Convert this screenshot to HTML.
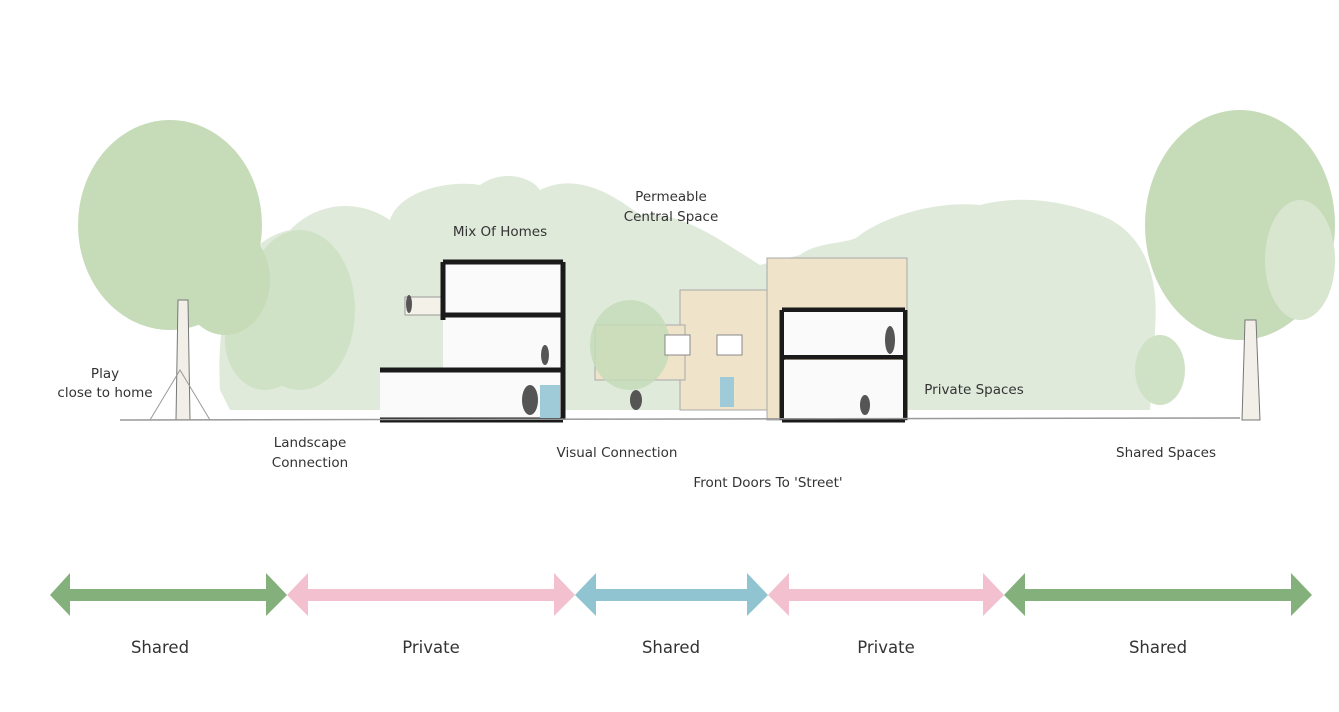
<!DOCTYPE html>
<html><head><style>
body{margin:0;background:#fff;}
svg{display:block}
text{font-family:"DejaVu Sans","Liberation Sans",sans-serif;fill:#333;}
</style></head><body>
<svg width="1339" height="712" viewBox="0 0 1339 712" xmlns="http://www.w3.org/2000/svg">
<g fill="#dfeadb">
<path d="M220,390 C215,300 240,240 290,230 C320,200 360,200 390,220 C400,190 450,180 480,185 C500,170 530,175 540,190 C580,170 620,200 640,215 C680,210 720,240 760,265 L800,255 C820,240 850,245 860,235 C880,220 930,200 980,205 C1020,195 1060,200 1100,215 C1140,230 1160,270 1155,330 L1150,410 L230,410 Z"/>
</g>
<g fill="#cfe2c6">
<ellipse cx="300" cy="310" rx="55" ry="80"/>
<ellipse cx="265" cy="340" rx="40" ry="50"/>
<ellipse cx="1160" cy="370" rx="25" ry="35"/>
</g>
<g>
<ellipse cx="170" cy="225" rx="92" ry="105" fill="#c6dcb9"/>
<ellipse cx="225" cy="280" rx="45" ry="55" fill="#c6dcb9"/>
<path d="M178,300 L176,420 L190,420 L188,300 Z" fill="#f2efe8" stroke="#777" stroke-width="1"/>
<path d="M150,420 L180,370 L210,420" fill="none" stroke="#999" stroke-width="1"/>
</g>
<g>
<ellipse cx="1240" cy="225" rx="95" ry="115" fill="#c6dcb9"/>
<ellipse cx="1300" cy="260" rx="35" ry="60" fill="#d8e6cf"/>
<path d="M1245,320 L1242,420 L1260,420 L1256,320 Z" fill="#f2efe8" stroke="#777" stroke-width="1"/>
</g>
<rect x="680" y="290" width="90" height="120" fill="#efe3c9" stroke="#aaa"/>
<rect x="595" y="325" width="90" height="55" fill="#efe3c9" stroke="#aaa"/>
<ellipse cx="630" cy="345" rx="40" ry="45" fill="#c6dcb9" opacity="0.85"/>
<rect x="767" y="258" width="140" height="162" fill="#efe3c9" stroke="#aaa"/>
<rect x="720" y="377" width="14" height="30" fill="#9fcbd8"/>
<rect x="665" y="335" width="25" height="20" fill="#fff" stroke="#888"/>
<rect x="717" y="335" width="25" height="20" fill="#fff" stroke="#888"/>
<rect x="380" y="370" width="185" height="50" fill="#fafafa"/>
<rect x="443" y="262" width="120" height="110" fill="#fafafa"/>
<rect x="405" y="297" width="38" height="18" fill="#f4f1e8" stroke="#999"/>
<g stroke="#1a1a1a" stroke-width="5" fill="none">
<path d="M443,262 L563,262 M443,262 L443,320 M563,262 L563,420"/>
<path d="M443,315 L563,315"/>
<path d="M380,370 L563,370"/>
<path d="M380,420 L563,420"/>
<path d="M782,310 L905,310 M782,310 L782,420 M905,310 L905,420 M782,357 L905,357 M782,420 L905,420"/>
</g>
<rect x="784" y="312" width="119" height="43" fill="#fafafa"/>
<rect x="784" y="360" width="119" height="58" fill="#fafafa"/>
<rect x="540" y="385" width="20" height="33" fill="#9fcbd8"/>
<g fill="#555">
<ellipse cx="530" cy="400" rx="8" ry="15"/>
<ellipse cx="545" cy="355" rx="4" ry="10"/>
<ellipse cx="890" cy="340" rx="5" ry="14"/>
<ellipse cx="865" cy="405" rx="5" ry="10"/>
<ellipse cx="636" cy="400" rx="6" ry="10"/>
<ellipse cx="409" cy="304" rx="3" ry="9"/>
</g>
<path d="M120,420 L1240,418" stroke="#999" stroke-width="1.5"/>
<g font-size="13.5" text-anchor="middle">
<text x="105" y="378">Play</text>
<text x="105" y="397">close to home</text>
<text x="310" y="447">Landscape</text>
<text x="310" y="467">Connection</text>
<text x="500" y="236">Mix Of Homes</text>
<text x="671" y="201">Permeable</text>
<text x="671" y="221">Central Space</text>
<text x="617" y="457">Visual Connection</text>
<text x="768" y="487">Front Doors To 'Street'</text>
<text x="974" y="394">Private Spaces</text>
<text x="1166" y="457">Shared Spaces</text>
</g>
<g>
<path d="M50,595 L70,573 L70,589 L266,589 L266,573 L287,595 L266,616 L266,601 L70,601 L70,616 Z" fill="#84b07b"/>
<path d="M287,595 L308,573 L308,589 L554,589 L554,573 L575,595 L554,616 L554,601 L308,601 L308,616 Z" fill="#f2c0cf"/>
<path d="M575,595 L596,573 L596,589 L747,589 L747,573 L768,595 L747,616 L747,601 L596,601 L596,616 Z" fill="#8fc4d0"/>
<path d="M768,595 L789,573 L789,589 L983,589 L983,573 L1004,595 L983,616 L983,601 L789,601 L789,616 Z" fill="#f2c0cf"/>
<path d="M1004,595 L1025,573 L1025,589 L1291,589 L1291,573 L1312,595 L1291,616 L1291,601 L1025,601 L1025,616 Z" fill="#84b07b"/>
</g>
<g font-size="16.5" text-anchor="middle">
<text x="160" y="653">Shared</text>
<text x="431" y="653">Private</text>
<text x="671" y="653">Shared</text>
<text x="886" y="653">Private</text>
<text x="1158" y="653">Shared</text>
</g>
</svg>
</body></html>
